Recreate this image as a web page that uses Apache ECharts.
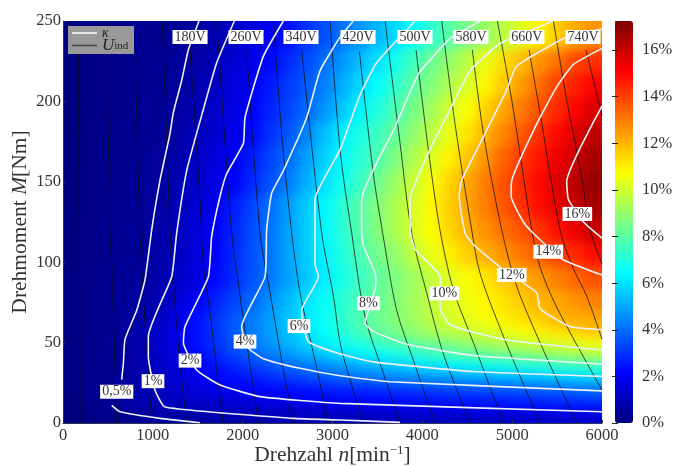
<!DOCTYPE html>
<html><head><meta charset="utf-8">
<style>html,body{margin:0;padding:0;background:#fff}#c{width:675px;height:466px}
#c canvas:first-of-type{filter:blur(6px);clip-path:inset(21px 73px 43px 63px)}</style>
<script src="https://cdn.jsdelivr.net/npm/echarts@6/dist/echarts.min.js"></script>
</head><body><div id="c"></div>
<script>
const rpmEdges=[0,200,400,600,800,1000,1200,1400,1600,1800,2000,2200,2400,2600,2800,3000,3200,3400,3600,3800,4000,4200,4400,4600,4800,5000,5200,5400,5600,5800,6000];
const torqueEdges=[0,3,5.5,8.5,11.5,15,19,23,27.5,32.5,39,46.5,53.5,61,70,82.5,97.5,112.5,127.5,142.5,157.5,172.5,187.5,202.5,217.5,232.5,250];
const eta_M1=[.01,.05,.1,.17,.26,.36,.46,.52,.56,.6,.65,.7,.75,.79,.84,.89,.95,1,1.02,1.03,1.05,1.06,1.08,1.1,1.12,1.13,1.15,1.17,1.18,1.2];
const eta_M4=[.03,.12,.25,.36,.47,.55,.63,.71,.79,.86,.93,.99,1.03,1.05,1.08,1.1,1.13,1.15,1.18,1.2,1.23,1.25,1.28,1.31,1.35,1.38,1.41,1.44,1.47,1.5];
const eta_M7=[.05,.16,.37,.53,.65,.75,.84,.92,.99,1.04,1.08,1.13,1.18,1.23,1.27,1.32,1.37,1.41,1.46,1.51,1.55,1.6,1.65,1.69,1.74,1.79,1.84,1.88,1.93,1.98];
const eta_M10=[.06,.18,.45,.6,.8,.98,1.05,1.11,1.18,1.24,1.3,1.37,1.43,1.49,1.55,1.62,1.68,1.74,1.81,1.87,1.93,1.99,2.05,2.1,2.16,2.21,2.27,2.32,2.37,2.43];
const eta_M13=[.06,.19,.38,.63,.85,1.01,1.12,1.23,1.34,1.45,1.55,1.66,1.77,1.88,1.99,2.06,2.12,2.18,2.24,2.3,2.36,2.42,2.48,2.54,2.6,2.66,2.72,2.78,2.84,2.9];
const eta_M17=[.07,.2,.36,.62,.86,1.04,1.22,1.4,1.59,1.77,1.95,2.06,2.14,2.22,2.3,2.38,2.46,2.54,2.62,2.7,2.78,2.86,2.94,3.02,3.1,3.18,3.26,3.34,3.42,3.5];
const eta_M21=[.08,.21,.33,.6,.85,1.09,1.31,1.54,1.76,1.99,2.1,2.21,2.32,2.43,2.54,2.65,2.76,2.86,2.97,3.08,3.19,3.3,3.41,3.52,3.62,3.73,3.84,3.95,4.05,4.15];
const eta_M25=[.08,.22,.35,.57,.85,1.13,1.42,1.71,2,2.2,2.4,2.6,2.8,3,3.2,3.4,3.6,3.8,4,4.1,4.19,4.29,4.38,4.48,4.57,4.67,4.77,4.86,4.96,5.05];
const eta_M30=[.09,.23,.36,.56,.86,1.18,1.53,1.88,2.18,2.45,2.73,3,3.28,3.55,3.83,4.06,4.21,4.37,4.52,4.68,4.84,4.99,5.15,5.3,5.46,5.62,5.78,5.98,6.12,6.25];
const eta_M35=[.09,.24,.37,.56,.86,1.25,1.65,2.05,2.41,2.78,3.15,3.52,3.88,4.18,4.47,4.76,5.06,5.35,5.64,5.93,6.07,6.23,6.38,6.54,6.7,6.85,7.01,7.16,7.32,7.48];
const eta_M43=[.1,.25,.38,.53,.9,1.31,1.78,2.26,2.8,3.33,3.87,4.32,4.75,5.18,5.6,6.03,6.31,6.59,6.87,7.15,7.43,7.7,8.03,8.27,8.49,8.71,8.93,9.15,9.37,9.59];
const eta_M50=[.1,.24,.37,.52,.9,1.38,1.9,2.44,3,3.56,4.12,4.7,5.25,5.83,6.27,6.66,7.05,7.46,7.85,8.17,8.45,8.73,9,9.28,9.56,9.84,10.1,10.26,10.42,10.58];
const eta_M57=[.1,.23,.38,.54,.91,1.37,1.88,2.46,3.07,3.69,4.28,4.86,5.44,6.01,6.51,7.05,7.62,8.12,8.51,8.9,9.3,9.69,9.87,10.17,10.45,10.73,11.01,11.29,11.57,11.85];
const eta_M65=[.1,.22,.36,.45,.72,1.2,1.79,2.39,3,3.61,4.22,4.83,5.46,6.07,6.63,7.2,7.78,8.27,8.72,9.17,9.62,10.06,10.37,10.69,11,11.31,11.62,12.02,12.16,12.3];
const eta_M75=[.09,.21,.35,.44,.63,.98,1.53,2.09,2.7,3.3,3.91,4.6,5.31,6,6.57,7.15,7.72,8.18,8.7,9.22,9.75,10.19,10.55,10.92,11.28,11.64,12,12.3,12.6,12.9];
const eta_M90=[.09,.2,.33,.42,.49,.82,1.23,1.72,2.27,2.9,3.54,4.18,4.86,5.53,6.19,6.81,7.43,8.04,8.6,9.17,9.73,10.24,10.72,11.19,11.66,12.12,12.52,12.93,13.33,13.73];
const eta_M105=[.08,.19,.31,.41,.47,.76,1.15,1.65,2.19,2.84,3.49,4.15,4.88,5.6,6.3,6.98,7.66,8.39,8.94,9.73,10.39,10.99,11.58,12.14,12.6,13.08,13.55,14.02,14.44,14.9];
const eta_M120=[.08,.18,.3,.4,.47,.7,1.08,1.59,2.13,2.79,3.45,4.12,4.87,5.61,6.37,7.14,7.9,8.65,9.39,10.12,10.78,11.44,12.08,12.61,13.15,13.68,14.24,14.83,15.42,16];
const eta_M135=[.07,.17,.28,.38,.45,.62,.98,1.45,1.92,2.59,3.31,4.04,4.82,5.59,6.37,7.13,7.9,8.65,9.39,10.13,10.87,11.6,12.3,12.97,13.63,14.27,14.88,15.48,16.09,16.6];
const eta_M150=[.07,.16,.27,.36,.44,.55,.91,1.29,1.67,2.1,2.81,3.51,4.26,5.11,5.98,6.69,7.38,8.33,9.12,9.84,10.65,11.47,12.25,12.96,13.68,14.36,15,15.65,16.28,16.9];
const eta_M165=[.07,.15,.24,.34,.4,.49,.79,1.16,1.56,1.96,2.61,3.29,3.97,4.81,5.66,6.41,7.1,7.79,8.57,9.39,10.2,10.98,11.76,12.56,13.36,14.12,14.73,15.33,15.94,16.6];
const eta_M180=[.06,.14,.22,.31,.38,.47,.69,1.05,1.36,1.78,2.27,2.93,3.6,4.39,5.37,6.22,6.86,7.49,8.15,8.89,9.63,10.41,11.22,12.04,12.82,13.6,14.3,14.97,15.65,16.17];
const eta_M195=[.06,.13,.21,.3,.37,.45,.62,.9,1.28,1.69,2.14,2.72,3.3,3.88,4.67,5.5,6.29,7,7.71,8.46,9.23,10,10.75,11.5,12.26,13,13.74,14.41,15.05,15.68];
const eta_M210=[.06,.12,.2,.28,.35,.42,.5,.8,1.15,1.56,1.98,2.54,3.1,3.67,4.3,5.05,5.78,6.52,7.26,8,8.7,9.4,10.12,10.9,11.67,12.45,13.22,14,14.55,15.1];
const eta_M225=[.05,.11,.18,.26,.33,.4,.48,.69,.98,1.38,1.78,2.26,2.84,3.42,4,4.67,5.33,6,6.77,7.54,8.28,8.97,9.66,10.43,11.3,11.9,12.57,13.2,13.9,14.3];
const eta_M240=[.05,.1,.17,.24,.3,.37,.44,.57,.84,1.15,1.5,1.9,2.4,2.95,3.5,4.05,4.65,5.25,5.85,6.5,7.25,7.95,8.5,9.05,9.6,10.25,10.9,11.6,12.2,12.6];
const etaRows=[eta_M1,eta_M4,eta_M7,eta_M10,eta_M13,eta_M17,eta_M21,eta_M25,eta_M30,eta_M35,eta_M43,eta_M50,eta_M57,eta_M65,eta_M75,eta_M90,eta_M105,eta_M120,eta_M135,eta_M150,eta_M165,eta_M180,eta_M195,eta_M210,eta_M225,eta_M240];

const U20=[[171,232],[182,118],[189,0]];
const U60=[[486,250],[523,118],[542,99],[597,0]];
const U100=[[802,232],[857,118],[894,79],[987,0]];
const U140=[[1106,250],[1191,120],[1210,99],[1303,37],[1377,0]];
const U180=[[1414,232],[1525,139],[1562,99],[1637,68],[1711,33],[1785,0]];
const U220=[[1711,250],[1822,159],[1878,118],[1971,79],[2063,43],[2175,0]];
const U260=[[2045,232],[2193,118],[2305,81],[2453,33],[2564,0]];
const U300=[[2342,250],[2434,180],[2546,118],[2639,81],[2805,39],[2954,0]];
const U340=[[2657,232],[2880,118],[3010,79],[3084,50],[3195,27],[3344,0]];
const U380=[[2973,250],[3084,170],[3214,118],[3363,66],[3566,31],[3752,0]];
const U420=[[3299,231],[3455,155],[3559,118],[3715,70],[3900,39],[4141,0]];
const U460=[[3585,250],[3752,174],[3882,118],[4048,81],[4234,43],[4531,0]];
const U500=[[3930,232],[4067,170],[4197,120],[4345,83],[4568,50],[4902,0]];
const U540=[[4216,250],[4364,186],[4550,120],[4643,93],[4902,54],[5310,0]];
const U580=[[4557,232],[4680,180],[4884,120],[5051,85],[5310,50],[5719,0]];
const U620=[[4835,250],[4995,201],[5218,120],[5310,97],[5496,72],[6000,20.5]];
const U660=[[5188,232],[5310,193],[5533,120],[5682,96],[5830,79],[6000,52]];
const U700=[[5459,250],[5607,201],[5774,153],[5867,120],[6000,99]];
const U740=[[5822,232],[6000,191]];
const voltageLines=[U20,U60,U100,U140,U180,U220,U260,U300,U340,U380,U420,U460,U500,U540,U580,U620,U660,U700,U740];

const k05a=[[653,27],[672,37],[690,52],[820,70],[913,89],[987,120],[1080,151],[1191,180],[1228,193],[1321,213],[1395,232],[1514,250]];
const k05b=[[542,11],[635,7],[1080,2.9],[1525,0.2]];
const k1=[[1907,250],[1711,224],[1562,195],[1377,157],[1265,118],[1210,91],[950,54],[950,41],[1024,20.5],[1136,10],[2564,2.9],[3084,1.9],[3752,0.4]];
const k2=[[2453,250],[2230,228],[2026,190],[2008,174],[1822,155],[1748,141],[1655,116],[1618,91],[1358,60],[1340,50],[1488,33],[1748,23.6],[2193,16.4],[3084,12.2],[6000,7]];
const k4=[[3232,250],[3084,240],[2861,219],[2713,190],[2453,157],[2323,143],[2267,120],[2249,91],[1989,60],[2045,47.5],[2230,40],[2639,34],[3084,29.4],[3640,25.7],[6000,20]];
const k6=[[3919,250],[3492,224],[3307,204],[3084,170],[2805,139],[2805,99],[2843,91],[2657,70],[2731,50.6],[3084,43],[3455,38],[4568,32],[6000,29]];
const k8=[[4643,250],[4309,239],[3956,217],[3696,184],[3325,139],[3325,118],[3344,110],[3484,91],[3473,83],[3363,62],[3455,57],[3826,49],[4568,42],[6000,36.7]];
const k10=[[5459,250],[4865,236],[4531,219],[4327,197],[4067,168],[3864,139],[3864,120],[3919,108],[4197,91],[4197,72],[4309,61],[4939,51.6],[6000,45.4]];
const k12=[[6000,245],[5607,240],[5051,222],[4939,207],[4680,178],[4439,151],[4410,141],[4476,118],[4568,111],[4865,97],[5273,81],[5310,71],[5644,60],[6000,58]];
const k14=[[6000,233],[5682,223],[5496,209],[5273,186],[4995,151],[4988,141],[5125,125],[5236,118],[5552,102],[6000,92]];
const k16=[[6000,197],[5607,150],[5626,139],[5793,125],[6000,115]];
const kappaLines=[k05a,k05b,k1,k2,k4,k6,k8,k10,k12,k14,k16];

const voltageLabels=[[1414,240,'180V'],[2037,240,'260V'],[2649,240,'340V'],[3284,240,'420V'],[3918,240,'500V'],[4541,240,'580V'],[5164,240,'660V'],[5788,240,'740V']];
const kappaLabels=[[598,19.5,'0,5%'],[1002,26,'1%'],[1414,38.8,'2%'],[2026,50.6,'4%'],[2627,60.3,'6%'],[3400,74.4,'8%'],[4245,80.6,'10%'],[4995,92,'12%'],[5402,106.5,'14%'],[5725,130,'16%']];
const xTicks={min:0,max:6000,step:1000};
const yTicks={min:0,max:250,step:50};
const barTicks={min:0,max:17.25,step:2};
const jet=['#00007f','#0000ff','#007fff','#00ffff','#7fff7f','#ffff00','#ff7f00','#ff0000','#7f0000'];

const FONT='"Liberation Serif"', INK='#333';
const cells=[];
etaRows.forEach((row,r)=>row.forEach((v,c)=>cells.push([rpmEdges[c],rpmEdges[c+1],torqueEdges[r],torqueEdges[r+1],v])));

const series=[{type:'custom',xAxisIndex:0,yAxisIndex:0,clip:false,silent:true,zlevel:-1,z:1,
  encode:{x:[0,1],y:[2,3]},data:cells,
  renderItem(p,api){
    const a=api.coord([api.value(0),api.value(3)]),b=api.coord([api.value(1),api.value(2)]);
    // outer cells run past the frame so that the soft shading keeps full strength up to it
    const x=Math.round(a[0])-(api.value(0)===xTicks.min?30:0),y=Math.round(a[1])-(api.value(3)===yTicks.max?30:0);
    const r=Math.round(b[0])+(api.value(1)===xTicks.max?30:0),q=Math.round(b[1])+(api.value(2)===yTicks.min?30:0);
    return {type:'rect',shape:{x,y,width:r-x,height:q-y},style:{fill:api.visual('color')}};
  }}];
voltageLines.forEach(d=>series.push({name:'Uind',type:'line',xAxisIndex:0,yAxisIndex:0,data:d,symbol:'none',smooth:.3,clip:true,silent:true,z:3,
  lineStyle:{color:'#111',width:0.9,opacity:.85},itemStyle:{color:'#444'}}));
kappaLines.forEach(d=>series.push({name:'κ',type:'line',xAxisIndex:0,yAxisIndex:0,data:d,symbol:'none',smooth:.15,clip:true,silent:true,z:4,
  lineStyle:{color:'#eef0f8',width:1.6},itemStyle:{color:'#fff'}}));
const lab={show:true,position:'inside',opacity:1,formatter:p=>p.data[2],backgroundColor:'#fff',color:INK,fontFamily:FONT,fontSize:14,lineHeight:13,padding:[1,2,0,2]};
[voltageLabels,kappaLabels].forEach(d=>series.push({type:'scatter',xAxisIndex:0,yAxisIndex:0,data:d,symbolSize:1,silent:true,z:6,
  itemStyle:{color:'rgba(0,0,0,0)',opacity:1},label:lab,encode:{x:0,y:1}}));

const chart=echarts.init(document.getElementById('c'),null,{renderer:'canvas'});
chart.setOption({animation:false,backgroundColor:'transparent',
 grid:[{left:63,top:21,width:539,height:402,outerBoundsMode:'none'},{left:615,top:21,width:18,height:402,outerBoundsMode:'none'}],
 xAxis:[{gridIndex:0,type:'value',min:xTicks.min,max:xTicks.max,interval:xTicks.step,splitLine:{show:false},
   axisLine:{onZero:false,lineStyle:{color:'#335'}},axisTick:{inside:true,length:3,lineStyle:{color:'#335'}},
   axisLabel:{color:INK,fontFamily:FONT,fontSize:16.5,margin:4,showMaxLabel:true,formatter:v=>String(v)},
   name:'{t|Drehzahl }{i|n}{t|[min}{s|−1}{t|]}',nameLocation:'middle',nameGap:21,nameMoveOverlap:false,
   nameTextStyle:{rich:{t:{fontFamily:FONT,fontSize:21.5,color:INK},i:{fontFamily:FONT,fontStyle:'italic',fontSize:21.5,color:INK},s:{fontFamily:FONT,fontSize:13,color:INK,verticalAlign:'top',padding:[0,0,7,0]}}}},
  {gridIndex:1,type:'value',show:false,min:0,max:1}],
 yAxis:[{gridIndex:0,type:'value',min:yTicks.min,max:yTicks.max,interval:yTicks.step,splitLine:{show:false},
   axisLine:{onZero:false,lineStyle:{color:'#335'}},axisTick:{inside:true,length:3,lineStyle:{color:'#335'}},
   axisLabel:{color:INK,fontFamily:FONT,fontSize:16.5,margin:2},
   name:'{t|Drehmoment }{i|M}{t|[Nm]}',nameLocation:'middle',nameGap:32,nameMoveOverlap:false,
   nameTextStyle:{rich:{t:{fontFamily:FONT,fontSize:21.5,color:INK},i:{fontFamily:FONT,fontStyle:'italic',fontSize:21.5,color:INK}}}},
  {gridIndex:1,type:'value',position:'right',min:barTicks.min,max:barTicks.max,interval:barTicks.step,z:10,splitLine:{show:false},
   axisLine:{show:false},axisTick:{inside:true,length:3,lineStyle:{color:'#222'}},
   axisLabel:{color:INK,fontFamily:FONT,fontSize:16.5,margin:9,showMaxLabel:false,formatter:'{value}%'}},
  {gridIndex:1,type:'value',position:'left',min:barTicks.min,max:barTicks.max,interval:barTicks.step,z:10,splitLine:{show:false},
   axisLine:{show:false},axisTick:{inside:true,length:3,lineStyle:{color:'#222'}},axisLabel:{show:false}}],
 visualMap:[{type:'continuous',seriesIndex:0,dimension:4,min:barTicks.min,max:barTicks.max,inRange:{color:jet},
   left:615,top:21,itemWidth:18,itemHeight:402,padding:0,calculable:false,realtime:false,hoverLink:false,text:['',''],showLabel:false,z:4}],
 legend:{show:true,data:[{name:'κ',icon:'rect'},{name:'Uind',icon:'rect'}],left:68,top:26,orient:'vertical',itemWidth:25,itemHeight:1.5,itemGap:-3,padding:[0,4,0,4],backgroundColor:'#999',borderRadius:0,
   selectedMode:false,
   formatter:n=>n==='κ'?'{k|κ}':'{i|U}{s|ind}',
   textStyle:{rich:{k:{fontFamily:FONT,fontStyle:'italic',fontSize:14,lineHeight:12,color:'#222',width:28},i:{fontFamily:FONT,fontStyle:'italic',fontSize:17,lineHeight:12,color:'#222'},s:{fontFamily:FONT,fontSize:11,lineHeight:12,color:'#222',verticalAlign:'bottom'}}}},
 series});
</script></body></html>
